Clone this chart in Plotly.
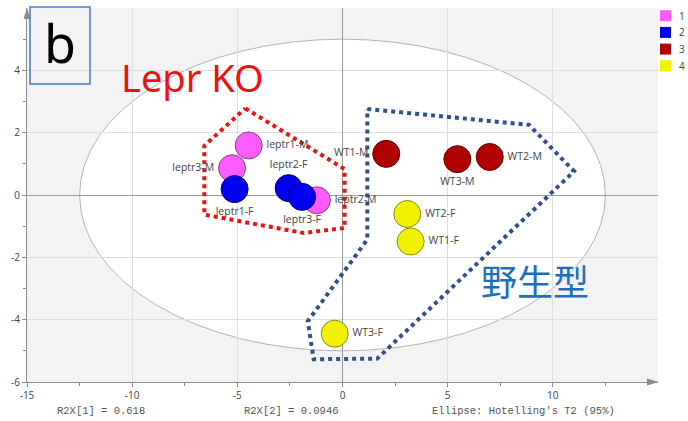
import plotly.graph_objects as go

# ---- score data (PC1 / PC2) ----
group_names = ["1", "2", "3", "4"]
group_colors = ["#ff5cff", "#0000ee", "#b00000", "#f0f000"]
group_edges = ["#8a3c8a", "#00007a", "#5a0000", "#8a8a1e"]

g1_labels = ["leptr3-M", "leptr1-M", "leptr2-M"]
g1_x = [-5.25, -4.46, -1.22]
g1_y = [0.86, 1.59, -0.17]
g1_pos = ["middle left", "middle right", "middle right"]

g2_labels = ["leptr1-F", "leptr2-F", "leptr3-F"]
g2_x = [-5.13, -2.56, -1.92]
g2_y = [0.19, 0.22, -0.06]
g2_pos = ["bottom center", "top center", "bottom center"]

g3_labels = ["WT1-M", "WT3-M", "WT2-M"]
g3_x = [2.08, 5.46, 7.00]
g3_y = [1.32, 1.15, 1.22]
g3_pos = ["middle left", "bottom center", "middle right"]

g4_labels = ["WT2-F", "WT1-F", "WT3-F"]
g4_x = [3.08, 3.24, -0.37]
g4_y = [-0.61, -1.49, -4.45]
g4_pos = ["middle right", "middle right", "middle right"]

# group outlines
ko_poly_x = [-4.62, 0.10, 0.10, -1.84, -6.57, -6.57, -4.62]
ko_poly_y = [2.78, 0.83, -1.06, -1.22, -0.63, 1.58, 2.78]
wt_poly_x = [1.18, 8.87, 11.01, 1.65, -1.37, -1.65, 1.18, 1.18]
wt_poly_y = [2.76, 2.25, 0.76, -5.25, -5.27, -4.05, -1.43, 2.76]

# Hotelling's T2 ellipse semi-axes
ell_a, ell_b = 12.5, 5.0

x_ticks = [-15, -10, -5, 0, 5, 10]
y_ticks = [-6, -4, -2, 0, 2, 4]

footer = ["R2X[1] = 0.618", "R2X[2] = 0.0946", "Ellipse: Hotelling's T2 (95%)"]

W, H = 688, 421
ML, MR, MT, MB = 27, 30, 8, 39
PW, PH = W - ML - MR, H - MT - MB


def px(x):
    return (x - ML) / PW


def py(y):
    return (H - MB - y) / PH


fig = go.Figure()

fig.add_trace(go.Scatter(x=ko_poly_x, y=ko_poly_y, mode="lines",
                         line=dict(color="#ee1111", width=4, dash="dot"),
                         hoverinfo="skip", showlegend=False))
fig.add_trace(go.Scatter(x=wt_poly_x, y=wt_poly_y, mode="lines",
                         line=dict(color="#2f4f8f", width=4, dash="dot"),
                         hoverinfo="skip", showlegend=False))

groups = [
    (g1_x, g1_y, g1_labels, g1_pos),
    (g2_x, g2_y, g2_labels, g2_pos),
    (g3_x, g3_y, g3_labels, g3_pos),
    (g4_x, g4_y, g4_labels, g4_pos),
]
for i, (gx, gy, gl, gp) in enumerate(groups):
    fig.add_trace(go.Scatter(
        x=gx, y=gy, text=gl, mode="markers+text", textposition=gp,
        name=group_names[i], showlegend=False,
        textfont=dict(family="Open Sans", size=10.5, color="#444444"),
        marker=dict(size=27, color=group_colors[i],
                    line=dict(color=group_edges[i], width=1)),
    ))

shapes = [
    dict(type="circle", xref="x", yref="y", x0=-ell_a, x1=ell_a, y0=-ell_b, y1=ell_b,
         fillcolor="white", line=dict(color="#b4b4b4", width=1), layer="below"),
    # axis arrows
    dict(type="path", xref="paper", yref="paper",
         path=f"M {px(27)} {py(8)} L {px(23.5)} {py(19)} L {px(30.5)} {py(19)} Z",
         fillcolor="#8c8c8c", line=dict(width=0)),
    dict(type="path", xref="paper", yref="paper",
         path=f"M {px(659)} {py(382)} L {px(647)} {py(378.5)} L {px(647)} {py(385.5)} Z",
         fillcolor="#8c8c8c", line=dict(width=0)),
    # panel letter box
    dict(type="rect", xref="paper", yref="paper",
         x0=px(30), x1=px(90), y0=py(84), y1=py(7),
         line=dict(color="#4a78c8", width=1.5), fillcolor="rgba(0,0,0,0)"),
]

annotations = [
    dict(text="b", x=px(60), y=py(42), xref="paper", yref="paper", showarrow=False,
         font=dict(family="Noto Sans", size=52, color="black"),
         xanchor="center", yanchor="middle"),
    dict(text="Lepr KO", x=px(192), y=py(77), xref="paper", yref="paper", showarrow=False,
         font=dict(family="Noto Sans", size=38, color="#ee1111"),
         xanchor="center", yanchor="middle"),
    dict(text="野生型", x=px(535), y=py(280), xref="paper", yref="paper", showarrow=False,
         font=dict(family="Noto Sans CJK JP", size=36, color="#1a6fc0"),
         xanchor="center", yanchor="middle"),
]

# legend boxes
for i, name in enumerate(group_names):
    cy = 15.7 + i * 16.7
    shapes.append(dict(type="rect", xref="paper", yref="paper",
                       x0=px(660), x1=px(671), y0=py(cy + 5.5), y1=py(cy - 5.5),
                       fillcolor=group_colors[i], line=dict(width=0)))
    annotations.append(dict(text=name, x=px(677), y=py(cy), xref="paper", yref="paper",
                            showarrow=False, xanchor="left", yanchor="middle",
                            font=dict(family="Open Sans", size=10, color="#444444")))

for txt, left in zip(footer, [55, 242, 430]):
    annotations.append(dict(text=txt, x=px(left), y=py(411), xref="paper", yref="paper",
                            showarrow=False, xanchor="left", yanchor="middle",
                            font=dict(family="Liberation Mono", size=10.5, color="#555555")))

axis_common = dict(
    showgrid=True, gridcolor="#dedede", gridwidth=1,
    zeroline=True, zerolinecolor="#9a9a9a", zerolinewidth=1,
    showline=True, linecolor="#8c8c8c", linewidth=1,
    ticks="outside", ticklen=4, tickcolor="#8c8c8c",
    tickfont=dict(family="Open Sans", size=10, color="#444444"),
    fixedrange=True,
)

fig.update_layout(
    width=W, height=H, autosize=False,
    margin=dict(l=ML, r=MR, t=MT, b=MB, pad=0),
    paper_bgcolor="white", plot_bgcolor="#f3f3f3",
    shapes=shapes, annotations=annotations, showlegend=False,
    xaxis=dict(range=[-15, 15], tickvals=x_ticks, ticktext=[str(v) for v in x_ticks],
               minor=dict(tickvals=[-12.5, -7.5, -2.5, 2.5, 7.5, 12.5], ticks="outside",
                          ticklen=3, tickcolor="#8c8c8c", showgrid=False),
               **axis_common),
    yaxis=dict(range=[-6, 6], tickvals=y_ticks, ticktext=[str(v) for v in y_ticks],
               minor=dict(tickvals=[-5, -3, -1, 1, 3, 5], ticks="outside",
                          ticklen=3, tickcolor="#8c8c8c", showgrid=False),
               **axis_common),
)

fig.write_html("out.html")
